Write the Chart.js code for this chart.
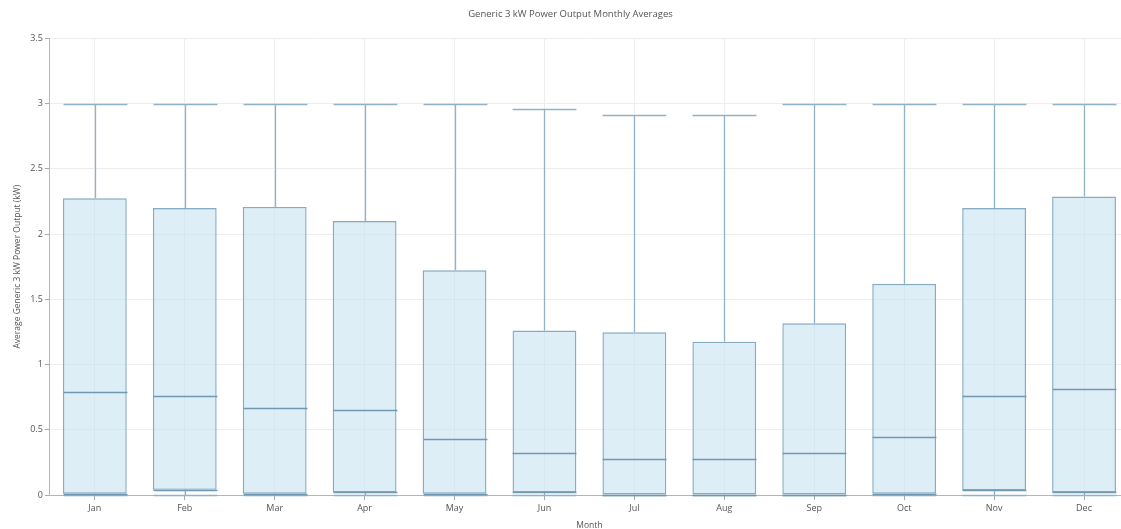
<!DOCTYPE html>
<html>
<head>
<meta charset="utf-8">
<script src="https://cdn.jsdelivr.net/npm/chart.js@4/dist/chart.umd.min.js"></script>
<style>
  html, body { margin: 0; padding: 0; background: #ffffff; overflow: hidden; }
  #wrap { width: 1140px; height: 531px; position: relative; }
</style>
</head>
<body>
<div id="wrap"><canvas id="chart"></canvas></div>
<script>
// Monthly distribution of average power output (kW)
const months   = ['Jan','Feb','Mar','Apr','May','Jun','Jul','Aug','Sep','Oct','Nov','Dec'];
const minVals  = [0.00, 0.00, 0.00, 0.00, 0.00, 0.00, 0.00, 0.00, 0.00, 0.00, 0.00, 0.00];
const q1Vals   = [0.01, 0.04, 0.01, 0.02, 0.01, 0.02, 0.00, 0.00, 0.00, 0.01, 0.035, 0.02];
const medVals  = [0.79, 0.756, 0.668, 0.655, 0.432, 0.32, 0.273, 0.273, 0.32, 0.447, 0.756, 0.813];
const q3Vals   = [2.274, 2.20, 2.208, 2.10, 1.722, 1.26, 1.247, 1.175, 1.316, 1.619, 2.20, 2.288];
const maxVals  = [3.0, 3.0, 3.0, 3.0, 2.997, 2.958, 2.912, 2.912, 3.0, 3.0, 3.0, 3.0];
const yTicks   = [0, 0.5, 1, 1.5, 2, 2.5, 3, 3.5];

const boxStroke = '#86abc2';
const boxFill   = 'rgba(198, 226, 242, 0.58)';
const lineColor = '#8fb2c7';

// Whiskers, caps and median lines drawn on top of the floating IQR bars
const boxWhiskers = {
  id: 'boxWhiskers',
  afterDatasetsDraw(chart) {
    const meta = chart.getDatasetMeta(0);
    const y = chart.scales.y;
    const ctx = chart.ctx;
    ctx.save();
    meta.data.forEach((bar, i) => {
      const cx = Math.round(bar.x) + 0.5;
      const half = bar.width / 2;
      const yMax = Math.round(y.getPixelForValue(maxVals[i])) + 0.5;
      const yQ3 = y.getPixelForValue(q3Vals[i]);
      const yQ1 = y.getPixelForValue(q1Vals[i]);
      const yMin = Math.round(y.getPixelForValue(minVals[i])) + 0.5;
      const yMed = Math.round(y.getPixelForValue(medVals[i])) + 0.5;
      ctx.lineWidth = 1.3;
      ctx.strokeStyle = lineColor;
      ctx.beginPath();
      ctx.moveTo(cx, yMax); ctx.lineTo(cx, yQ3);
      ctx.moveTo(cx, yQ1); ctx.lineTo(cx, yMin);
      ctx.stroke();
      ctx.beginPath();
      ctx.moveTo(cx - half, yMax); ctx.lineTo(cx + half, yMax);
      ctx.moveTo(cx - half, yMin); ctx.lineTo(cx + half, yMin);
      ctx.stroke();
      ctx.strokeStyle = '#6f98b3';
      ctx.lineWidth = 1.4;
      ctx.beginPath();
      ctx.moveTo(cx - half, yMed); ctx.lineTo(cx + half, yMed);
      ctx.moveTo(cx - half, Math.round(yQ1) + 0.5); ctx.lineTo(cx + half, Math.round(yQ1) + 0.5);
      ctx.stroke();
    });
    ctx.restore();
  }
};

const font = "'Open Sans', 'Noto Sans', sans-serif";

new Chart(document.getElementById('chart'), {
  type: 'bar',
  data: {
    labels: months,
    datasets: [{
      label: 'Average Generic 3 kW Power Output (kW)',
      data: months.map((m, i) => [q1Vals[i], q3Vals[i]]),
      backgroundColor: boxFill,
      borderColor: boxStroke,
      borderWidth: 1.4,
      borderSkipped: false,
      barPercentage: 0.71,
      categoryPercentage: 1.0
    }]
  },
  options: {
    responsive: true,
    maintainAspectRatio: false,
    animation: false,
    layout: { padding: { left: 12, right: 11, top: 4, bottom: 0 } },
    plugins: {
      legend: { display: false },
      tooltip: { enabled: false },
      title: {
        display: true,
        text: 'Generic 3 kW Power Output Monthly Averages',
        color: '#555555',
        font: { family: font, size: 9.5, weight: 'normal' },
        padding: { top: 5, bottom: 18 }
      }
    },
    scales: {
      x: {
        offset: true,
        grid: { offset: false, color: '#eeeeee', tickLength: 5, tickColor: '#aaaaaa' },
        border: { color: '#b5b5b5' },
        ticks: { color: '#555555', font: { family: font, size: 9 }, padding: 3 },
        title: {
          display: true,
          text: 'Month',
          color: '#555555',
          font: { family: font, size: 8.5 },
          padding: { top: 4, bottom: 0 }
        }
      },
      y: {
        min: 0,
        max: 3.5,
        afterBuildTicks(axis) { axis.ticks = yTicks.map(v => ({ value: v })); },
        grid: { color: '#eeeeee', tickLength: 5, tickColor: '#aaaaaa' },
        border: { color: '#b5b5b5' },
        ticks: {
          color: '#555555',
          font: { family: font, size: 9 },
          padding: 2,
          callback: v => String(v)
        },
        title: {
          display: true,
          text: 'Average Generic 3 kW Power Output (kW)',
          color: '#555555',
          font: { family: font, size: 8.5 },
          padding: { top: 0, bottom: 6 }
        }
      }
    }
  },
  plugins: [boxWhiskers]
});
</script>
</body>
</html>
